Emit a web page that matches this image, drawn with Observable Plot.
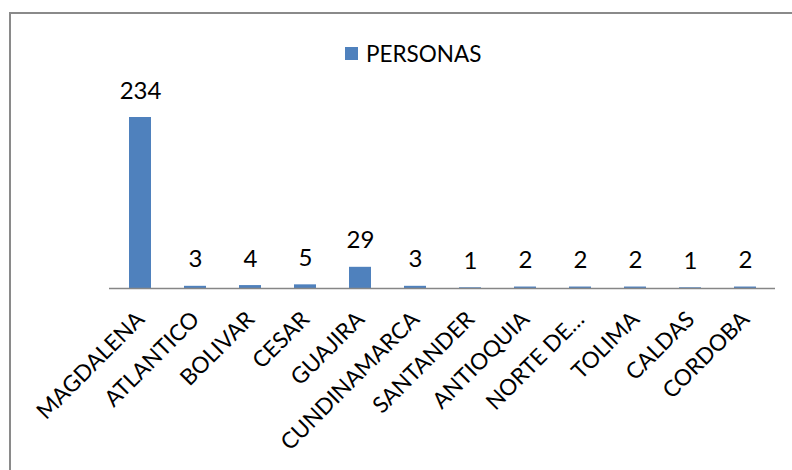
<!DOCTYPE html>
<html>
<head>
<meta charset="utf-8">
<script src="https://cdn.jsdelivr.net/npm/d3@7"></script>
<script src="https://cdn.jsdelivr.net/npm/@observablehq/plot@0.6"></script>
<style>
  html, body { margin: 0; padding: 0; background: #fff; }
  body { width: 792px; height: 470px; position: relative; overflow: hidden; font-family: Lato, "Open Sans", sans-serif; color: #000; }
  #frame { position: absolute; left: 9px; top: 12px; width: 900px; height: 600px; border: 2px solid #8a8a8a; box-sizing: border-box; }
  #legend { position: absolute; left: 345px; top: 42px; height: 23px; display: flex; align-items: center; font-size: 22.5px; line-height: 23px; }
  #legend .sw { width: 13px; height: 13px; background: #4F81BD; margin-right: 8px; }
  #chart { position: absolute; left: 0; top: 70px; }
</style>
</head>
<body>
<div id="frame"></div>
<div id="legend"><div class="sw"></div><span id="legend-label"></span></div>
<div id="chart"></div>
<script>
const categories = ["MAGDALENA", "ATLANTICO", "BOLIVAR", "CESAR", "GUAJIRA", "CUNDINAMARCA", "SANTANDER", "ANTIOQUIA", "NORTE DE…", "TOLIMA", "CALDAS", "CORDOBA"];
const values = [234, 3, 4, 5, 29, 3, 1, 2, 2, 2, 1, 2];
const seriesName = "PERSONAS";

document.getElementById("legend-label").textContent = seriesName;

const data = categories.map((c, i) => ({cat: c, value: values[i]}));

const chart = Plot.plot({
  width: 792,
  height: 400,
  marginLeft: 109,
  marginRight: 17,
  marginTop: 47,
  marginBottom: 182,
  x: {domain: categories, paddingInner: 0.6, paddingOuter: 0.3, axis: null},
  y: {domain: [0, 234], axis: null},
  style: {fontFamily: "Lato", fontSize: "23px", background: "transparent", color: "#000", overflow: "visible"},
  marks: [
    Plot.barY(data, {x: "cat", y: "value", fill: "#4F81BD"}),
    Plot.ruleY([0], {stroke: "#868686", strokeWidth: 1.3}),
    Plot.text(data, {x: "cat", y: "value", text: d => String(d.value), lineAnchor: "bottom", dy: -19, fill: "#000", fontSize: 24}),
    Plot.text(data, {x: "cat", frameAnchor: "bottom", text: "cat", rotate: -45, textAnchor: "end", lineAnchor: "top", dx: -6, dy: 21, fill: "#000", fontSize: 22.5})
  ]
});
document.getElementById("chart").appendChild(chart);
</script>
</body>
</html>
